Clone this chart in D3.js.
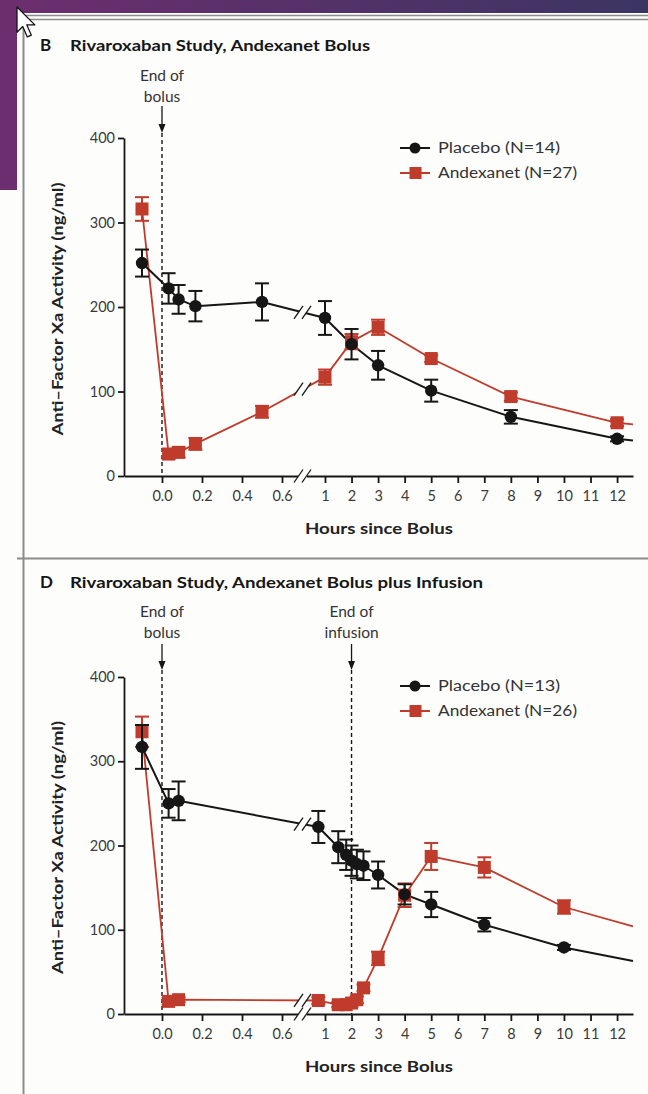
<!DOCTYPE html>
<html>
<head>
<meta charset="utf-8">
<script src="https://cdn.jsdelivr.net/npm/d3@7"></script>
<style>
  html, body { margin: 0; padding: 0; background: #fdfdfc; }
  svg { display: block; font-family: Lato, "Liberation Sans", sans-serif; }
</style>
</head>
<body>
<div id="chart"></div>
<script>
// axis ticks (hours since end of bolus, anti-factor Xa in ng/ml)
const tickHoursLeft = [0, 0.2, 0.4, 0.6];
const tickHoursRight = [1, 2, 3, 4, 5, 6, 7, 8, 9, 10, 11, 12];
const tickActivity = [0, 100, 200, 300, 400];
const tailHour = 12.6; // lines run on to the end of the axis

// panel B - bolus only
const hoursB = [-0.1, 0.033, 0.083, 0.167, 0.5, 1, 2, 3, 5, 8, 12];
const placeboB = [252, 222, 209, 201, 206, 187, 156, 131, 101, 70, 44];
const placeboErrB = [16, 18, 17, 18, 22, 20, 18, 17, 13, 8, 3];
const andexanetB = [316, 26, 28, 38, 76, 117, 159, 176, 139, 94, 63];
const andexanetErrB = [14, 6, 6, 7, 7, 9, 9, 9, 4, 5, 4];
const placeboTailB = 42;
const andexanetTailB = 61;
const titleB = "Rivaroxaban Study, Andexanet Bolus";
const legendB = ["Placebo (N=14)", "Andexanet (N=27)"];
const notesB = [{hour: 0, text: ["End of", "bolus"]}];

// panel D - bolus plus 2 h infusion
const hoursD = [-0.1, 0.033, 0.083, 0.75, 1.5, 1.8, 2.0, 2.2, 2.45, 3, 4, 5, 7, 10];
const placeboD = [317, 250, 253, 222, 198, 189, 182, 178, 176, 165, 142, 130, 106, 79];
const placeboErrD = [26, 17, 23, 19, 19, 18, 18, 17, 17, 16, 12, 15, 8, 3];
const andexanetD = [335, 15, 17, 16, 11, 11, 13, 17, 31, 66, 141, 187, 174, 127];
const andexanetErrD = [18, 4, 3, 4, 3, 3, 4, 4, 4, 8, 14, 16, 12, 8];
const placeboTailD = 63;
const andexanetTailD = 104;
const titleD = "Rivaroxaban Study, Andexanet Bolus plus Infusion";
const legendD = ["Placebo (N=13)", "Andexanet (N=26)"];
const notesD = [{hour: 0, text: ["End of", "bolus"]}, {hour: 2, text: ["End of", "infusion"]}];

var width = 648;
var height = 1094;
var ink = "#161616";
var red = "#bf3b2c";
var paper = "#fdfdfc";

var svg = d3.select("#chart")
    .append("svg")
        .attr("viewBox", [0, 0, width, height])
        .attr("width", width)
        .attr("height", height);

// slide background peeking out at top left
var grad = svg.append("defs").append("linearGradient")
    .attr("id", "slide")
    .attr("gradientUnits", "userSpaceOnUse")
    .attr("x1", 0).attr("x2", width).attr("y1", 0).attr("y2", 0);
grad.append("stop").attr("offset", 0).attr("stop-color", "#6d2e6e");
grad.append("stop").attr("offset", 1).attr("stop-color", "#3b3562");

svg.append("rect").attr("width", width).attr("height", height).attr("fill", paper);
svg.append("rect").attr("width", width).attr("height", 13).attr("fill", "url(#slide)");
svg.append("rect").attr("width", 17).attr("height", 190).attr("fill", "url(#slide)");

// figure frame
var frame = svg.append("g").attr("stroke", "#8c8c8c").attr("fill", "none");
frame.append("line").attr("x1", 22).attr("x2", width).attr("y1", 15.5).attr("y2", 15.5).attr("stroke-width", 1.5);
frame.append("line").attr("x1", 22).attr("x2", width).attr("y1", 19.5).attr("y2", 19.5).attr("stroke-width", 1.5);
frame.append("line").attr("x1", 23.5).attr("x2", 23.5).attr("y1", 15).attr("y2", height).attr("stroke-width", 2);
frame.append("line").attr("x1", 17).attr("x2", width).attr("y1", 558.5).attr("y2", 558.5).attr("stroke-width", 2);

function fit(sel, w) {
    sel.attr("textLength", w).attr("lengthAdjust", "spacingAndGlyphs");
}

function slashes(g, cx, cy) {
    g.append("path")
        .attr("d", `M${cx - 8.5},${cy + 6}L${cx - 0.5},${cy - 6}L${cx + 7.5},${cy - 6}L${cx - 0.5},${cy + 6}Z`)
        .attr("fill", paper);
    [-4.5, 3.5].forEach(dx => g.append("line")
        .attr("x1", cx + dx - 4.5).attr("y1", cy + 6.5)
        .attr("x2", cx + dx + 4.5).attr("y2", cy - 6.5)
        .attr("stroke", ink).attr("stroke-width", 1.3));
}

function drawPanel(p) {
    var g = svg.append("g");

    var xLeft = d3.scaleLinear().domain([-0.19, 0.69]).range([124, 300]);
    var xRight = d3.scaleLinear().domain([0.3, tailHour]).range([306.4, 633]);
    var x = t => t < 0.7 ? xLeft(t) : xRight(t);
    var y = d3.scaleLinear().domain([0, 400]).range([p.bottom, p.top]);
    var breakX = 303;

    // title
    g.append("text").attr("x", 40).attr("y", p.titleY)
        .attr("font-size", 17).attr("font-weight", "bold").attr("fill", ink).text(p.letter);
    g.append("text").attr("x", 70).attr("y", p.titleY)
        .attr("font-size", 15.5).attr("font-weight", "bold").attr("fill", ink)
        .text(p.title).call(fit, p.titleWidth);

    // axes
    var yAxis = d3.axisLeft(y).tickValues(tickActivity).tickSize(6).tickPadding(3).tickSizeOuter(0);
    var xAxisL = d3.axisBottom(xLeft).tickValues(tickHoursLeft).tickFormat(d3.format(".1f"))
        .tickSize(7).tickPadding(8).tickSizeOuter(0);
    var xAxisR = d3.axisBottom(xRight).tickValues(tickHoursRight)
        .tickSize(7).tickPadding(8).tickSizeOuter(0);

    var axisStyle = a => a
        .call(a => a.selectAll("path, line").attr("stroke", ink).attr("stroke-width", 1.8))
        .call(a => a.selectAll("text").attr("fill", "#3a3a3a").attr("font-size", 14.5)
            .attr("font-family", "Lato, 'Liberation Sans', sans-serif"));

    g.append("g").attr("transform", `translate(124,0)`).call(yAxis).call(axisStyle);
    g.append("g").attr("transform", `translate(0,${p.bottom})`).call(xAxisL).call(axisStyle);
    g.append("g").attr("transform", `translate(0,${p.bottom})`).call(xAxisR).call(axisStyle);

    g.append("text")
        .attr("transform", `translate(58,${(p.top + p.bottom) / 2 + 2}) rotate(-90)`)
        .attr("text-anchor", "middle").attr("dy", "0.35em")
        .attr("font-size", 15).attr("font-weight", "bold").attr("fill", "#222")
        .text("Anti\u2013Factor Xa Activity (ng/ml)").call(fit, 253);
    g.append("text").attr("x", 379).attr("y", p.bottom + 58)
        .attr("text-anchor", "middle")
        .attr("font-size", 15.5).attr("font-weight", "bold").attr("fill", "#222")
        .text("Hours since Bolus").call(fit, 148);

    // end of bolus / infusion markers
    p.notes.forEach(n => {
        var cx = x(n.hour);
        n.text.forEach((t, i) => g.append("text")
            .attr("x", cx).attr("y", p.noteY + i * 21)
            .attr("text-anchor", "middle").attr("font-size", 15.5).attr("fill", "#333")
            .text(t));
        g.append("line").attr("x1", cx).attr("x2", cx)
            .attr("y1", p.arrowTop).attr("y2", p.arrowBottom - 4)
            .attr("stroke", ink).attr("stroke-width", 1.3);
        g.append("path")
            .attr("d", `M${cx - 3.5},${p.arrowBottom - 9}L${cx + 3.5},${p.arrowBottom - 9}L${cx},${p.arrowBottom}Z`)
            .attr("fill", ink);
        g.append("line").attr("x1", cx).attr("x2", cx)
            .attr("y1", p.arrowBottom).attr("y2", p.bottom)
            .attr("stroke", ink).attr("stroke-width", 1.4).attr("stroke-dasharray", "4,3");
    });

    // series: red first, placebo on top
    var series = [
        {values: p.andexanet, errs: p.andexanetErr, tail: p.andexanetTail, color: red, shape: "square", width: 1.8},
        {values: p.placebo, errs: p.placeboErr, tail: p.placeboTail, color: ink, shape: "circle", width: 2}
    ];

    var line = d3.line().x(d => x(d[0])).y(d => y(d[1]));

    series.forEach(s => {
        var pts = p.hours.map((h, i) => [h, s.values[i]]).concat([[tailHour, s.tail]]);
        g.append("path").datum(pts)
            .attr("fill", "none").attr("stroke", s.color).attr("stroke-width", s.width)
            .attr("stroke-linejoin", "round").attr("d", line);

        // break marks where the line crosses the axis break
        for (var i = 0; i < pts.length - 1; i++) {
            var x0 = x(pts[i][0]), x1 = x(pts[i + 1][0]);
            if (x0 < breakX && x1 >= breakX) {
                var f = (breakX - x0) / (x1 - x0);
                var yb = y(pts[i][1]) + f * (y(pts[i + 1][1]) - y(pts[i][1]));
                slashes(g, breakX, yb);
            }
        }
    });

    series.forEach(s => {
        var pts = p.hours.map((h, i) => ({h: h, v: s.values[i], e: s.errs[i]}));
        var eb = g.append("g").attr("stroke", s.color).attr("stroke-width", 2);
        pts.forEach(d => {
            var cx = x(d.h);
            eb.append("line").attr("x1", cx).attr("x2", cx).attr("y1", y(d.v - d.e)).attr("y2", y(d.v + d.e));
            [d.v - d.e, d.v + d.e].forEach(v => eb.append("line")
                .attr("x1", cx - 7).attr("x2", cx + 7).attr("y1", y(v)).attr("y2", y(v)));
        });
        if (s.shape === "circle") {
            g.append("g").selectAll("circle").data(pts).join("circle")
                .attr("cx", d => x(d.h)).attr("cy", d => y(d.v)).attr("r", 6.2).attr("fill", s.color);
        } else {
            g.append("g").selectAll("rect").data(pts).join("rect")
                .attr("x", d => x(d.h) - 6.5).attr("y", d => y(d.v) - 6.5)
                .attr("width", 13).attr("height", 13).attr("fill", s.color);
        }
    });

    // axis break on x axis
    slashes(g, breakX, p.bottom);

    // legend
    var lg = g.append("g").attr("transform", `translate(400,${p.legendY})`);
    p.legend.forEach((label, i) => {
        var s = series[1 - i];
        var row = lg.append("g").attr("transform", `translate(0,${i * 25})`);
        row.append("line").attr("x1", 0).attr("x2", 30).attr("stroke", s.color).attr("stroke-width", 2);
        if (s.shape === "circle") {
            row.append("circle").attr("cx", 15).attr("r", 5.5).attr("fill", s.color);
        } else {
            row.append("rect").attr("x", 9.5).attr("y", -6).attr("width", 12).attr("height", 12).attr("fill", s.color);
        }
        row.append("text").attr("x", 38).attr("dy", "0.35em")
            .attr("font-size", 15.5).attr("fill", "#333")
            .text(label).call(fit, i === 0 ? 122 : 139);
    });
}

drawPanel({
    letter: "B", title: titleB, titleWidth: 300, titleY: 51,
    top: 138, bottom: 476, noteY: 81, arrowTop: 106, arrowBottom: 133, legendY: 148,
    hours: hoursB, placebo: placeboB, placeboErr: placeboErrB, placeboTail: placeboTailB,
    andexanet: andexanetB, andexanetErr: andexanetErrB, andexanetTail: andexanetTailB,
    legend: legendB, notes: notesB
});

drawPanel({
    letter: "D", title: titleD, titleWidth: 413, titleY: 588,
    top: 677, bottom: 1014, noteY: 617, arrowTop: 644, arrowBottom: 670, legendY: 686,
    hours: hoursD, placebo: placeboD, placeboErr: placeboErrD, placeboTail: placeboTailD,
    andexanet: andexanetD, andexanetErr: andexanetErrD, andexanetTail: andexanetTailD,
    legend: legendD, notes: notesD
});

// mouse pointer left on the screenshot
svg.append("path")
    .attr("transform", "translate(17,7) scale(1.15)")
    .attr("d", "M0,0L0,22L5,17L9,26L12.5,24.5L8.5,15.5L15.5,15.5Z")
    .attr("fill", "#fff").attr("stroke", "#111").attr("stroke-width", 1.1)
    .attr("stroke-linejoin", "round");
</script>
</body>
</html>
